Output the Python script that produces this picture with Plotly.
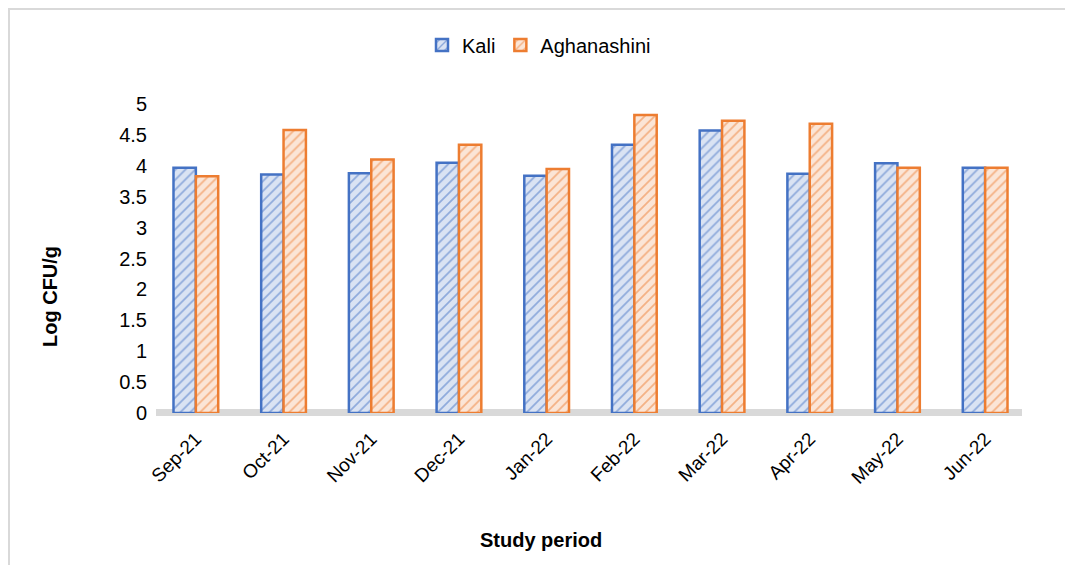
import plotly.graph_objects as go

months = ["Sep-21", "Oct-21", "Nov-21", "Dec-21", "Jan-22", "Feb-22", "Mar-22", "Apr-22", "May-22", "Jun-22"]
kali = [3.97, 3.86, 3.88, 4.05, 3.84, 4.34, 4.57, 3.87, 4.04, 3.97]
aghanashini = [3.83, 4.58, 4.10, 4.34, 3.95, 4.82, 4.73, 4.68, 3.97, 3.97]
y_ticks = [0, 0.5, 1, 1.5, 2, 2.5, 3, 3.5, 4, 4.5, 5]
y_tick_text = ["0", "0.5", "1", "1.5", "2", "2.5", "3", "3.5", "4", "4.5", "5"]

FONT = "Liberation Sans, Arial, sans-serif"

fig = go.Figure()
fig.add_trace(go.Bar(
    name="Kali", x=months, y=kali,
    marker=dict(color="#DAE3F3", line=dict(color="#4472C4", width=2.5),
                pattern=dict(shape="/", fgcolor="#4472C4", bgcolor="#DAE3F3", size=7, solidity=0.25)),
))
fig.add_trace(go.Bar(
    name="Aghanashini", x=months, y=aghanashini,
    marker=dict(color="#FBE5D6", line=dict(color="#ED7D31", width=2.5),
                pattern=dict(shape="/", fgcolor="#ED7D31", bgcolor="#FBE5D6", size=7, solidity=0.25)),
))

# page body has an 8px margin: figure pixel = reference pixel - 8
OFF = 8
W, H = 1073 - OFF, 565 - OFF
l = 152 - OFF
t = 104 - OFF
b = H - (413 - OFF)
r = W - (1029 - OFF)
pw, ph = W - l - r, H - t - b

def px_x(p):
    return ((p - OFF) - l) / pw

def px_y(p):
    return ((H - b) - (p - OFF)) / ph

# gray floor
fig.add_shape(type="rect", xref="paper", yref="paper",
              x0=px_x(156), x1=px_x(1022), y0=px_y(416), y1=px_y(409),
              fillcolor="#D9D9D9", line=dict(width=0), layer="below")

# chart border (only left and top visible)
fig.add_shape(type="rect", xref="paper", yref="paper",
              x0=px_x(9), x1=px_x(1090), y0=px_y(580), y1=px_y(9),
              line=dict(color="#D9D9D9", width=2), fillcolor="rgba(0,0,0,0)", layer="below")

# axis titles
fig.add_annotation(text="<b>Study period</b>", xref="paper", yref="paper",
                   x=px_x(541), y=px_y(540), showarrow=False,
                   font=dict(size=20), xanchor="center", yanchor="middle")
fig.add_annotation(text="<b>Log CFU/g</b>", xref="paper", yref="paper",
                   x=px_x(50), y=px_y(297), showarrow=False, textangle=-90,
                   font=dict(size=20), xanchor="center", yanchor="middle")

fig.update_layout(
    width=W, height=H,
    margin=dict(l=l, r=r, t=t, b=b, autoexpand=False),
    paper_bgcolor="white", plot_bgcolor="white",
    barmode="group", bargap=0.49, bargroupgap=0.0,
    font=dict(family=FONT, size=20, color="#000000"),
    showlegend=True,
    legend=dict(orientation="h", x=px_x(539), xanchor="center", y=px_y(45), yanchor="middle",
                font=dict(size=20), itemwidth=30, traceorder="normal",
                bgcolor="rgba(0,0,0,0)"),
    xaxis=dict(tickangle=-45, showgrid=False, showline=False, ticks="",
               tickfont=dict(size=19), automargin=False, range=[-0.5, 9.5],
               ticklabelstandoff=10),
    yaxis=dict(range=[0, 5], tickvals=y_ticks, ticktext=y_tick_text, showgrid=False,
               showline=False, zeroline=False, ticks="", tickfont=dict(size=20),
               automargin=False, ticklabelstandoff=4),
)

fig.write_html("out.html")
